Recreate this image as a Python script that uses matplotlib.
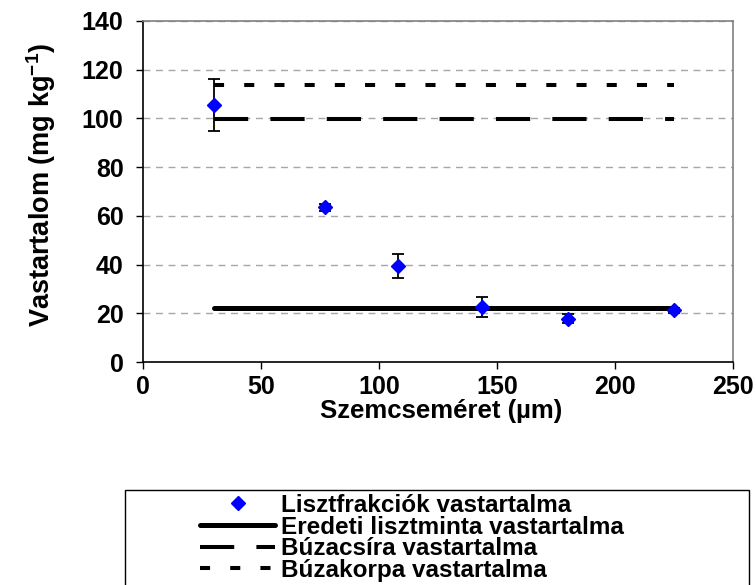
import matplotlib
matplotlib.use("Agg")
import matplotlib.pyplot as plt
from matplotlib.lines import Line2D
from matplotlib.patches import Rectangle

plt.rcParams['font.family'] = ['Liberation Sans', 'DejaVu Sans']
plt.rcParams['font.weight'] = 'bold'
plt.rcParams['mathtext.fontset'] = 'custom'
plt.rcParams['mathtext.bf'] = 'Liberation Sans:bold'
plt.rcParams['mathtext.rm'] = 'Liberation Sans:bold'
plt.rcParams['mathtext.default'] = 'bf'

# Data
particle_size = [30, 77, 108, 143.5, 180, 225]
iron_content = [105.5, 63.5, 39.5, 22.5, 17.8, 21.3]
iron_err = [10.7, 1.5, 5.0, 4.0, 1.8, 1.0]

line_x = [30, 225]
original_flour = [22.0, 22.0]
wheat_germ = [99.6, 99.6]
wheat_bran = [113.9, 113.9]

x_ticks = [0, 50, 100, 150, 200, 250]
y_ticks = [0, 20, 40, 60, 80, 100, 120, 140]

labels = ["Lisztfrakciók vastartalma", "Eredeti lisztminta vastartalma",
          "Búzacsíra vastartalma", "Búzakorpa vastartalma"]

W, H = 756, 585
fig = plt.figure(figsize=(W/100, H/100), dpi=100)
ax = fig.add_axes([143/W, 1-362/H, (733-143)/W, (362-21)/H])

ax.set_xlim(0, 250)
ax.set_ylim(0, 140)
ax.set_xticks(x_ticks)
ax.set_yticks(y_ticks)

for y in y_ticks[1:]:
    ax.axhline(y, color='#a6a6a6', lw=1.0, dashes=(5, 4), zorder=0)

ax.plot(line_x, original_flour, color='black', lw=3.6, solid_capstyle='round', zorder=3)
ax.plot(line_x, wheat_germ, color='black', lw=2.9, dashes=(8.5, 5.5), zorder=3)
ax.plot(line_x, wheat_bran, color='black', lw=2.9, dashes=(2.5, 5.0), zorder=3)

ax.errorbar(particle_size, iron_content, yerr=iron_err, fmt='none',
            ecolor='black', elinewidth=1.3, capsize=4.3, capthick=1.3, zorder=4)
ax.plot(particle_size, iron_content, linestyle='none', marker='D', ms=7,
        color='#0000ff', markeredgecolor='#0000ff', zorder=5)

for s in ['left', 'bottom']:
    ax.spines[s].set_color('black')
    ax.spines[s].set_linewidth(1.2)
for s in ['top', 'right']:
    ax.spines[s].set_color('#808080')
    ax.spines[s].set_linewidth(1.2)

ax.tick_params(axis='both', direction='out', length=5, width=1.0, labelsize=18)
ax.tick_params(axis='y', pad=9)
ax.tick_params(axis='x', pad=4)
for lab in ax.get_xticklabels() + ax.get_yticklabels():
    lab.set_fontweight('bold')

ax.set_xlabel("Szemcseméret (µm)", fontsize=18.5, fontweight='bold')
ax.set_ylabel(r"Vastartalom (mg kg$^{-1}$)", fontsize=19.5, fontweight='bold')
ax.xaxis.set_label_coords((441-143)/590, (362-399)/341)
ax.yaxis.set_label_coords((58-143)/590, (362-185)/341)

# legend box
fig.patches.append(Rectangle((125/W, 0 - 10/H), (749-125)/W, (10+H-490)/H,
                             transform=fig.transFigure, facecolor='white',
                             edgecolor='black', lw=1.0, zorder=1))

handles = [
    Line2D([], [], linestyle='none', marker='D', ms=7, color='#0000ff'),
    Line2D([], [], color='black', lw=3.6, solid_capstyle='round'),
    Line2D([], [], color='black', lw=2.9, dashes=(8.5, 5.5)),
    Line2D([], [], color='black', lw=2.9, dashes=(2.5, 5.0)),
]
leg = fig.legend(handles, labels, loc='upper left',
                 bbox_to_anchor=(200/W, 1-494/H), ncol=1,
                 frameon=False,
                 prop={'family': 'Liberation Sans', 'weight': 'bold', 'size': 17.5},
                 handlelength=3.1, handletextpad=0.25, labelspacing=-0.06,
                 borderpad=0, borderaxespad=0)

fig.savefig("out.png", dpi=100)
